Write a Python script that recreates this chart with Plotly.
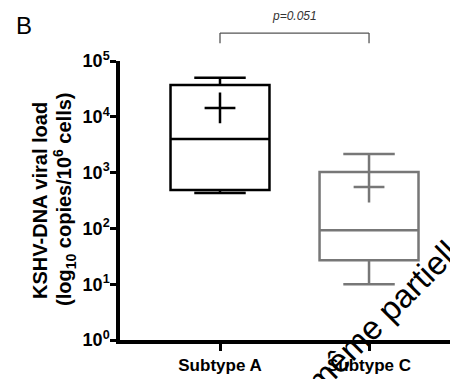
import plotly.graph_objects as go

# ---- data ----
categories = ["Subtype A", "Subtype C"]
xpos = [0, 1]
q1 = [490, 27]
median = [4000, 93]
q3 = [37000, 1030]
lower = [430, 10]
upper = [50000, 2150]
means = [14400, 550]
colors = ["#000000", "#777777"]
ytick_vals = [1, 10, 100, 1000, 10000, 100000]
ytick_text = ["10<sup>0</sup>", "10<sup>1</sup>", "10<sup>2</sup>", "10<sup>3</sup>",
              "10<sup>4</sup>", "10<sup>5</sup>"]
p_text = "p=0.051"
ytitle_lines = ["KSHV-DNA viral load", "(log<sub>10</sub> copies/10<sup>6</sup> cells)"]

FONT = "Liberation Sans, Arial, sans-serif"

fig = go.Figure()
for i in range(len(categories)):
    fig.add_trace(go.Box(
        x=[xpos[i]], q1=[q1[i]], median=[median[i]], q3=[q3[i]],
        lowerfence=[lower[i]], upperfence=[upper[i]],
        width=0.664, whiskerwidth=0.52,
        line=dict(color=colors[i], width=2.5),
        fillcolor="rgba(255,255,255,0)",
        boxpoints=False, showlegend=False, hoverinfo="skip",
    ))
    fig.add_trace(go.Scatter(
        x=[xpos[i]], y=[means[i]], mode="markers",
        marker=dict(symbol="cross-thin", size=22,
                    line=dict(color=colors[i], width=2.5)),
        showlegend=False, hoverinfo="skip", cliponaxis=False,
    ))

# significance bracket (paper y above plot area)
yb, yt = 1.064, 1.100
bl = dict(color="#555555", width=1.3)
fig.add_shape(type="line", xref="x", yref="paper", x0=xpos[0], x1=xpos[0], y0=yb, y1=yt, line=bl)
fig.add_shape(type="line", xref="x", yref="paper", x0=xpos[1], x1=xpos[1], y0=yb, y1=yt, line=bl)
fig.add_shape(type="line", xref="x", yref="paper", x0=xpos[0], x1=xpos[1], y0=yt, y1=yt, line=bl)
fig.add_annotation(x=(xpos[0] + xpos[1]) / 2, y=1.161, xref="x", yref="paper",
                   text="<i>" + p_text + "</i>", showarrow=False,
                   xanchor="center", yanchor="middle",
                   font=dict(family=FONT, size=12, color="#333333"))

# panel letter
fig.add_annotation(x=-0.313, y=1.129, xref="paper", yref="paper", text="B",
                   showarrow=False, xanchor="left", yanchor="middle",
                   font=dict(family=FONT, size=24, color="#000000"))

# y-axis title (two lines)
fig.add_annotation(x=-0.2367, y=0.502, xref="paper", yref="paper",
                   text="<b>%s</b>" % ytitle_lines[0], showarrow=False, textangle=-90,
                   xanchor="center", yanchor="middle",
                   font=dict(family=FONT, size=20, color="#000000"))
fig.add_annotation(x=-0.1627, y=0.502, xref="paper", yref="paper",
                   text="<b>%s</b>" % ytitle_lines[1], showarrow=False, textangle=-90,
                   xanchor="center", yanchor="middle",
                   font=dict(family=FONT, size=20, color="#000000"))

# watermark
fig.add_annotation(x=0.793, y=0.107, xref="paper", yref="paper", text="même partielle",
                   showarrow=False, textangle=-45, xanchor="center", yanchor="middle",
                   font=dict(family=FONT, size=33, color="#000000"))

# the page body has an 8px margin, so the figure is 8px smaller than the window
fig.update_layout(
    width=450, height=371,
    margin=dict(l=112, r=0, t=53, b=39),
    paper_bgcolor="white", plot_bgcolor="white",
    font=dict(family=FONT, color="#000000"),
    xaxis=dict(range=[-0.671, 1.597], tickvals=xpos, ticktext=["<b>%s</b>" % c for c in categories],
               showline=True, linecolor="black", linewidth=3.5, ticks="outside",
               ticklen=7, tickwidth=3, tickcolor="black", showgrid=False, zeroline=False,
               automargin=False,
               tickfont=dict(family=FONT, size=17, color="black")),
    yaxis=dict(type="log", range=[0, 5], tickvals=ytick_vals,
               ticktext=["<b>%s</b>" % t for t in ytick_text],
               showline=True, linecolor="black", linewidth=3.5, ticks="outside",
               ticklen=6, tickwidth=3, tickcolor="black", showgrid=False, zeroline=False,
               automargin=False, ticklabelstandoff=-3,
               tickfont=dict(family=FONT, size=18, color="black")),
)

fig.write_html("out.html")
